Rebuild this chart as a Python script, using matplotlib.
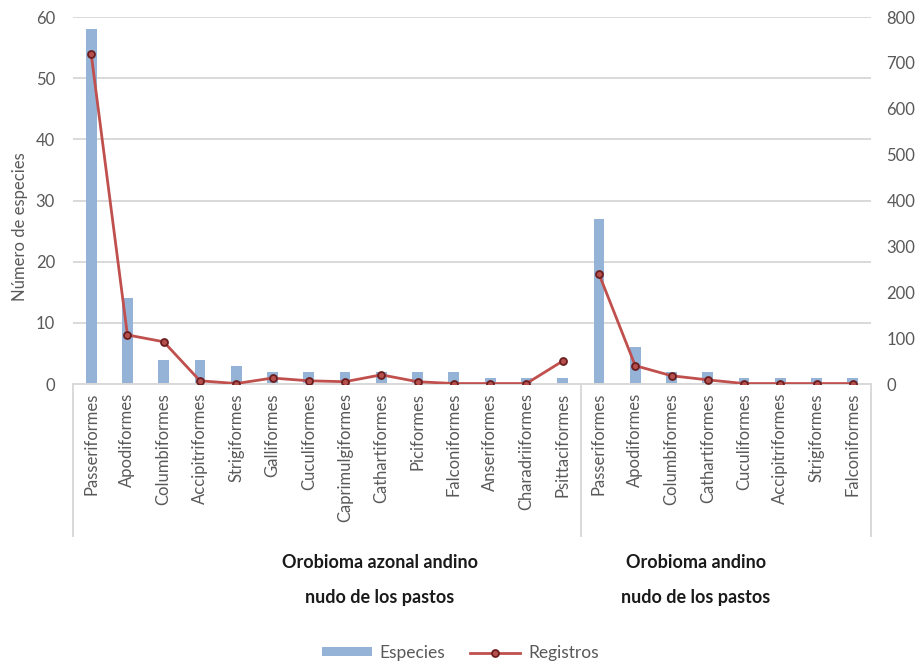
import matplotlib
matplotlib.use("Agg")
import matplotlib.pyplot as plt
import matplotlib.transforms as mtransforms
import numpy as np

plt.rcParams['font.family'] = ['Lato', 'DejaVu Sans']

# Orders recorded in each orobiome
group1_orders = ["Passeriformes", "Apodiformes", "Columbiformes", "Accipitriformes",
                 "Strigiformes", "Galliformes", "Cuculiformes", "Caprimulgiformes",
                 "Cathartiformes", "Piciformes", "Falconiformes", "Anseriformes",
                 "Charadriiformes", "Psittaciformes"]
group1_species = [58, 14, 4, 4, 3, 2, 2, 2, 2, 2, 2, 1, 1, 1]
group1_records = [720, 107, 92, 7, 1, 13, 7, 5, 20, 5, 1, 1, 1, 50]

group2_orders = ["Passeriformes", "Apodiformes", "Columbiformes", "Cathartiformes",
                 "Cuculiformes", "Accipitriformes", "Strigiformes", "Falconiformes"]
group2_species = [27, 6, 2, 2, 1, 1, 1, 1]
group2_records = [240, 40, 18, 9, 1, 1, 1, 1]

group_labels = ["Orobioma azonal andino\n\nnudo de los pastos",
                "Orobioma andino\n\nnudo de los pastos"]

W, H = 919, 662
fig = plt.figure(figsize=(W / 100, H / 100), dpi=100)
ax = fig.add_axes([73 / W, 1 - 384 / H, (871 - 73) / W, (384 - 17) / H])

orders = group1_orders + group2_orders
species = group1_species + group2_species
n1 = len(group1_orders)
x1 = np.arange(n1)
x2 = np.arange(n1, len(orders))
x = np.arange(len(orders))

bar_color = "#95B3D7"
line_color = "#C0504D"
grid_color = "#D9D9D9"
text_color = "#595959"

ax.bar(x, species, width=0.3, color=bar_color, zorder=2, label="Especies")
ax.set_xlim(-0.5, len(orders) - 0.5)
ax.set_ylim(0, 60)
ax.set_yticks(np.arange(0, 61, 10))
ax.yaxis.grid(True, color=grid_color, lw=1.4, zorder=0)
ax.set_axisbelow(True)
for s in ["left", "right", "top"]:
    ax.spines[s].set_visible(False)
ax.spines["bottom"].set_color(grid_color)
ax.spines["bottom"].set_linewidth(1.4)
ax.set_xticks(x)
ax.set_xticklabels(orders, rotation=90, va="top", ha="center", fontsize=12,
                   color=text_color)
ax.tick_params(axis="x", length=0, pad=6.5)
ax.tick_params(axis="y", length=0, pad=13, labelsize=12, labelcolor=text_color)
ax.set_ylabel("Número de especies", fontsize=12, color=text_color)
ax.yaxis.set_label_coords(-0.057, 0.43)

ax2 = ax.twinx()
ax2.plot(x1, group1_records, color=line_color, lw=2, marker="o", ms=5,
         mfc="#B5504D", mec="#6B1E1E", mew=1.3, zorder=3, label="Registros")
ax2.plot(x2, group2_records, color=line_color, lw=2, marker="o", ms=5,
         mfc="#B5504D", mec="#6B1E1E", mew=1.3, zorder=3)
ax2.set_ylim(0, 800)
ax2.set_yticks(np.arange(0, 801, 100))
for s in ax2.spines.values():
    s.set_visible(False)
ax2.tick_params(axis="y", length=0, pad=11, labelsize=12, labelcolor=text_color)

# Category box below the axis
trans = mtransforms.blended_transform_factory(ax.transData, ax.transAxes)
box_bottom = -(536 - 384) / (384 - 17)
for xv in [-0.5, n1 - 0.5, len(orders) - 0.5]:
    ax.plot([xv, xv], [0, box_bottom], transform=trans, color=grid_color,
            lw=1.4, clip_on=False)

# Group labels
for label, cx in zip(group_labels, [380, 696]):
    fig.text(cx / W, 1 - 580 / H, label, ha="center", va="center",
             fontsize=13, fontweight="bold", color="#1a1a1a", linespacing=1.05)

# Legend
handles = [ax.patches[0], ax2.lines[0]]
leg = fig.legend(handles, ["Especies", "Registros"], loc="center",
                 bbox_to_anchor=(460 / W, 1 - 653 / H), ncol=2, frameon=False,
                 fontsize=12.5, handlelength=2.9, handleheight=0.45,
                 columnspacing=1.4, handletextpad=0.45)
for t in leg.get_texts():
    t.set_color(text_color)

fig.savefig("out.png", dpi=100)
